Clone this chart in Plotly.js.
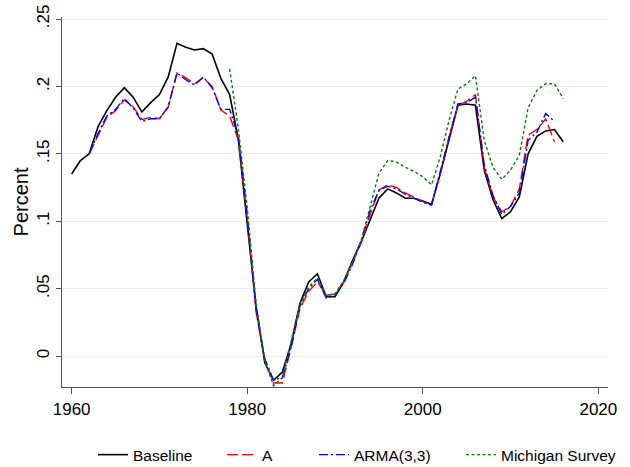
<!DOCTYPE html>
<html>
<head>
<meta charset="utf-8">
<script src="https://cdn.plot.ly/plotly-3.0.1.min.js"></script>
<style>html,body{margin:0;padding:0;background:#fff;}#chart{width:630px;height:467px;}</style>
</head>
<body>
<div id="chart"></div>
<script>
const baselineYears = [1960,1961,1962,1963,1964,1965,1966,1967,1968,1969,1970,1971,1972,1973,1974,1975,1976,1977,1978,1979,1980,1981,1982,1983,1984,1985,1986,1987,1988,1989,1990,1991,1992,1993,1994,1995,1996,1997,1998,1999,2000,2001,2002,2003,2004,2005,2006,2007,2008,2009,2010,2011,2012,2013,2014,2015,2016];
const baseline = [0.135,0.145,0.150,0.170,0.182,0.192,0.199,0.192,0.181,0.188,0.194,0.207,0.232,0.229,0.227,0.228,0.224,0.206,0.194,0.160,0.098,0.037,-0.005,-0.018,-0.012,0.009,0.039,0.055,0.061,0.044,0.044,0.055,0.071,0.085,0.101,0.117,0.124,0.121,0.117,0.117,0.115,0.1125,0.1355,0.1615,0.186,0.187,0.186,0.138,0.116,0.102,0.107,0.118,0.150,0.163,0.167,0.168,0.159];

const modelYears = [1962,1963,1964,1965,1966,1967,1968,1969,1970,1971,1972,1973,1974,1975,1976,1977,1978,1979,1980,1981,1982,1983,1984,1985,1986,1987,1988,1989,1990,1991,1992,1993,1994,1995,1996,1997,1998,1999,2000,2001,2002,2003,2004,2005,2006,2007,2008,2009,2010,2011,2012,2013,2014,2015];
const seriesA = [0.150,0.163,0.177,0.182,0.190,0.185,0.1755,0.177,0.176,0.1845,0.210,0.2065,0.202,0.2065,0.200,0.1825,0.178,0.160,0.103,0.033,-0.003,-0.020,-0.020,0.006,0.035,0.048,0.055,0.045,0.046,0.055,0.069,0.084,0.105,0.123,0.127,0.125,0.121,0.118,0.1145,0.1125,0.1355,0.163,0.1855,0.189,0.194,0.140,0.118,0.107,0.111,0.124,0.164,0.168,0.176,0.159];
const arma33 = [0.150,0.165,0.178,0.183,0.191,0.184,0.174,0.176,0.176,0.185,0.210,0.205,0.201,0.207,0.199,0.183,0.183,0.163,0.105,0.035,-0.002,-0.018,-0.016,0.007,0.037,0.050,0.057,0.043,0.045,0.054,0.068,0.086,0.108,0.123,0.126,0.124,0.120,0.117,0.114,0.112,0.136,0.162,0.187,0.188,0.192,0.142,0.119,0.105,0.111,0.121,0.160,0.166,0.180,0.174];

const michiganYears = [1978,1979,1980,1981,1982,1983,1984,1985,1986,1987,1988,1989,1990,1991,1992,1993,1994,1995,1996,1997,1998,1999,2000,2001,2002,2003,2004,2005,2006,2007,2008,2009,2010,2011,2012,2013,2014,2015,2016];
const michigan = [0.213,0.168,0.110,0.040,-0.004,-0.022,-0.016,0.010,0.038,0.051,0.058,0.045,0.046,0.056,0.070,0.086,0.111,0.1355,0.145,0.144,0.140,0.137,0.133,0.127,0.148,0.175,0.198,0.202,0.208,0.160,0.140,0.131,0.138,0.149,0.184,0.197,0.202,0.202,0.191];

const yTickVals = [0,0.05,0.1,0.15,0.2,0.25];
const yTickText = ["0",".05",".1",".15",".2",".25"];
const xTickVals = [1960,1980,2000,2020];

const FONT = "Liberation Sans, Arial, sans-serif";

const traces = [
  {x: baselineYears, y: baseline, name: "Baseline", type: "scatter", mode: "lines", legend: "legend",
   line: {color: "#000000", width: 1.6}},
  {x: modelYears, y: seriesA, name: "A", type: "scatter", mode: "lines", legend: "legend2",
   line: {color: "#ff0000", width: 1.4, dash: "11px,4px"}},
  {x: modelYears, y: arma33, name: "ARMA(3,3)", type: "scatter", mode: "lines", legend: "legend3",
   line: {color: "#0000ff", width: 1.4, dash: "9px,3px,2px,3px"}},
  {x: michiganYears, y: michigan, name: "Michigan Survey", type: "scatter", mode: "lines", legend: "legend4",
   line: {color: "#008000", width: 1.4, dash: "3px,2.5px"}}
];

function leg(px) {
  return {orientation: "h", x: (px - 62) / 546, xanchor: "left", y: -0.138, yanchor: "top",
          font: {family: FONT, size: 15.5, color: "#000"}, bgcolor: "rgba(0,0,0,0)"};
}

const layout = {
  width: 630, height: 467,
  margin: {l: 62, r: 22, t: 17, b: 80, autoexpand: false},
  paper_bgcolor: "#ffffff", plot_bgcolor: "#ffffff",
  font: {family: FONT, color: "#000000", size: 16},
  showlegend: true,
  legend: leg(93),
  legend2: leg(222),
  legend3: leg(314),
  legend4: leg(461),
  xaxis: {range: [1958.9, 2021.1], tickmode: "array", tickvals: xTickVals,
          ticks: "outside", ticklen: 6, tickcolor: "#555", tickwidth: 1,
          showline: true, linecolor: "#555", linewidth: 1.2,
          showgrid: false, zeroline: false, automargin: false,
          tickfont: {family: FONT, size: 17, color: "#000"}},
  yaxis: {range: [-0.023, 0.2515], tickmode: "array", tickvals: yTickVals, ticktext: yTickText,
          ticks: "outside", ticklen: 5, tickcolor: "#555", tickwidth: 1,
          showline: true, linecolor: "#555", linewidth: 1.2,
          showgrid: true, gridcolor: "#e6eef0", gridwidth: 1, zeroline: false,
          tickangle: -90, automargin: false,
          tickfont: {family: FONT, size: 17, color: "#000"},
          title: {text: "Percent", font: {family: FONT, size: 20, color: "#000"}, standoff: 0}}
};

Plotly.newPlot("chart", traces, layout, {staticPlot: true, displayModeBar: false});
</script>
</body>
</html>
